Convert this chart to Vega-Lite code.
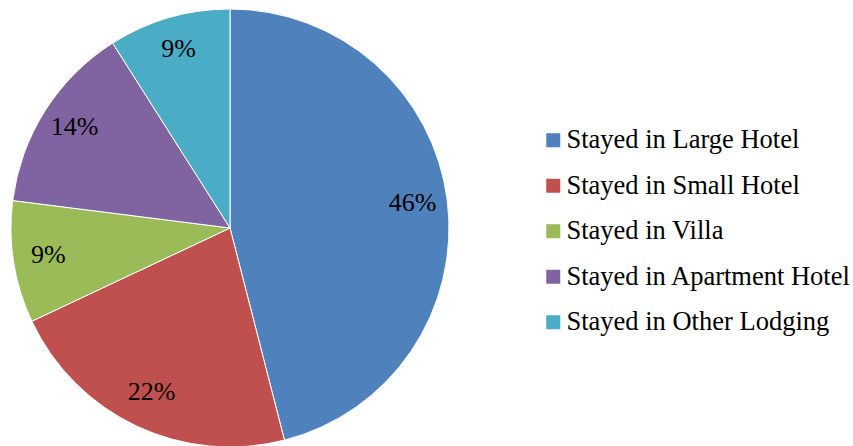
{
  "$schema": "https://vega.github.io/schema/vega-lite/v6.json",
  "autosize": "none",
  "padding": {"left": 0, "top": 0, "right": 393, "bottom": 0},
  "width": 460,
  "height": 456,
  "background": "white",
  "data": {
    "values": [
      {"order": 1, "category": "Stayed in Large Hotel", "value": 46, "label": "46%"},
      {"order": 2, "category": "Stayed in Small Hotel", "value": 22, "label": "22%"},
      {"order": 3, "category": "Stayed in Villa", "value": 9, "label": "9%"},
      {"order": 4, "category": "Stayed in Apartment Hotel", "value": 14, "label": "14%"},
      {"order": 5, "category": "Stayed in Other Lodging", "value": 9, "label": "9%"}
    ]
  },
  "encoding": {
    "theta": {"field": "value", "type": "quantitative", "stack": true},
    "order": {"field": "order", "type": "quantitative"}
  },
  "layer": [
    {
      "mark": {"type": "arc", "outerRadius": 219, "stroke": "white", "strokeWidth": 1},
      "encoding": {
        "color": {
          "field": "category",
          "type": "nominal",
          "sort": ["Stayed in Large Hotel", "Stayed in Small Hotel", "Stayed in Villa", "Stayed in Apartment Hotel", "Stayed in Other Lodging"],
          "scale": {
            "domain": ["Stayed in Large Hotel", "Stayed in Small Hotel", "Stayed in Villa", "Stayed in Apartment Hotel", "Stayed in Other Lodging"],
            "range": ["#4F81BD", "#C0504D", "#9BBB59", "#8064A2", "#4BACC6"]
          },
          "legend": {
            "title": null,
            "orient": "none",
            "legendX": 540,
            "legendY": 127,
            "padding": 0,
            "symbolType": "square",
            "symbolSize": 196,
            "symbolStrokeWidth": 0,
            "labelFont": "'Times New Roman', 'Liberation Serif', serif",
            "labelFontSize": 26.5,
            "labelColor": "black",
            "labelOffset": 0,
            "labelLimit": 400,
            "rowPadding": 18.5
          }
        }
      }
    },
    {
      "mark": {"type": "text", "radius": 184, "font": "'Times New Roman', 'Liberation Serif', serif", "fontSize": 26, "color": "black", "align": "center", "baseline": "middle", "dy": -2},
      "encoding": {
        "text": {"field": "label", "type": "nominal"}
      }
    }
  ]
}
